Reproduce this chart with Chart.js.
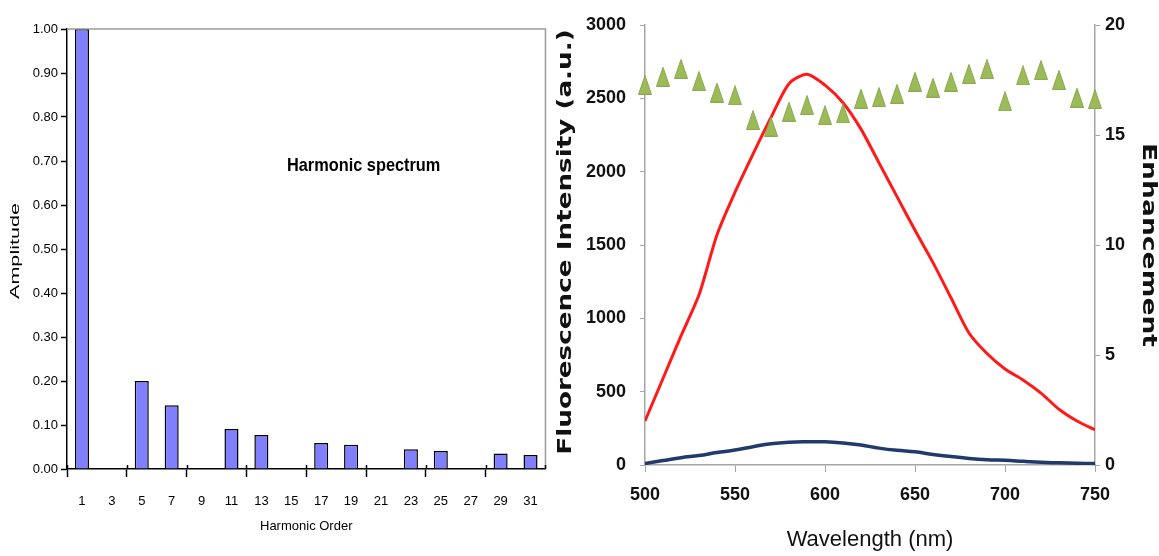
<!DOCTYPE html>
<html>
<head>
<meta charset="utf-8">
<script src="https://cdn.jsdelivr.net/npm/chart.js@4"></script>
<style>
  html, body { margin: 0; padding: 0; background: #ffffff; }
  body { width: 1159px; height: 556px; position: relative; overflow: hidden; }
  #wrapL { position: absolute; left: 0; top: 0; width: 555px; height: 556px; }
  #wrapR { position: absolute; left: 555px; top: 0; width: 604px; height: 556px; }
</style>
</head>
<body>
<div id="wrapL"><canvas id="left" width="555" height="556"></canvas></div>
<div id="wrapR"><canvas id="right" width="604" height="556"></canvas></div>
<script>
// ---------- Left chart data ----------
const harmonicOrders = ['1','3','5','7','9','11','13','15','17','19','21','23','25','27','29','31'];
const amplitudes = [1.00, 0, 0.20, 0.145, 0, 0.091, 0.077, 0, 0.059, 0.055, 0, 0.045, 0.041, 0, 0.035, 0.032];
const leftTitle = 'Harmonic spectrum';
const leftXTitle = 'Harmonic Order';
const leftYTitle = 'Amplitude';

// ---------- Right chart data ----------
const wavelengths = [500,510,520,530,540,550,560,570,580,590,600,610,620,630,640,650,660,670,680,690,700,710,720,730,740,750];
const fluorescenceEnhanced = [300,590,880,1160,1570,1860,2120,2370,2600,2665,2590,2470,2290,2060,1830,1600,1380,1140,900,760,655,580,490,380,300,240];
const fluorescenceControl = [10,30,50,65,85,102,125,145,155,158,158,150,136,115,100,90,72,58,45,36,32,25,18,15,12,10];
const enhancement = [17.27,17.65,18.0,17.45,16.93,16.8,15.68,15.38,16.06,16.36,15.9,15.98,16.65,16.72,16.87,17.42,17.15,17.42,17.78,18.0,16.53,17.71,17.95,17.5,16.7,16.63];
const rightXTitle = 'Wavelength (nm)';
const rightYTitle = 'Fluorescence Intensity (a.u.)';
const rightY2Title = 'Enhancement';

const narrow = "'Liberation Sans Narrow', 'Liberation Sans', Arial, sans-serif";
const sans = "'Liberation Sans', Arial, sans-serif";
const wide = "'DejaVu Sans', Verdana, sans-serif";

// text drawn with a stretch along its reading direction
function drawRotated(ctx, text, x, y, angle, font, stretch, color) {
  ctx.save();
  ctx.translate(x, y);
  ctx.rotate(angle);
  ctx.scale(stretch, 1);
  ctx.font = font;
  ctx.fillStyle = color;
  ctx.textAlign = 'center';
  ctx.textBaseline = 'middle';
  ctx.fillText(text, 0, 0);
  ctx.restore();
}

// ---------- Left chart ----------
const leftDecor = {
  id: 'leftDecor',
  afterDraw(chart) {
    const {ctx, chartArea: a} = chart;
    ctx.save();
    ctx.strokeStyle = '#9a9a9a';
    ctx.lineWidth = 1.5;
    ctx.beginPath();
    ctx.moveTo(a.left, a.top);
    ctx.lineTo(a.right, a.top);
    ctx.lineTo(a.right, a.bottom);
    ctx.stroke();
    // tick marks crossing the category axis (every second category boundary)
    ctx.strokeStyle = '#000';
    ctx.lineWidth = 1.5;
    const n = harmonicOrders.length;
    for (let i = 0; i <= n; i += 2) {
      const x = Math.round(a.left + i * (a.right - a.left) / n) + 0.5;
      ctx.beginPath();
      ctx.moveTo(x, a.bottom - 4);
      ctx.lineTo(x, a.bottom);
      ctx.stroke();
    }
    ctx.restore();
    drawRotated(ctx, leftTitle, a.left + (a.right - a.left) * 0.62, a.top + (a.bottom - a.top) * 0.31, 0, "bold 19px " + sans, 0.86, '#000');
    drawRotated(ctx, leftYTitle, 16, (a.top + a.bottom) / 2 + 2, -Math.PI / 2, "12px " + sans, 1.8, '#000');
  }
};

new Chart(document.getElementById('left'), {
  type: 'bar',
  data: {
    labels: harmonicOrders,
    datasets: [{
      data: amplitudes,
      backgroundColor: '#8080FF',
      borderColor: '#000000',
      borderWidth: 1.5,
      categoryPercentage: 1,
      barPercentage: 0.47
    }]
  },
  options: {
    responsive: false,
    animation: false,
    devicePixelRatio: 1,
    layout: { padding: { left: 0, top: 29, right: 8, bottom: 0 } },
    plugins: { legend: { display: false }, tooltip: { enabled: false } },
    scales: {
      x: {
        offset: true,
        afterFit(s) { s.height = 87; },
        grid: {
          offset: true,
          drawOnChartArea: false,
          drawTicks: true,
          tickLength: 8,
          tickWidth: 1.5,
          tickColor: (c) => (c.index % 2 === 0 ? '#000' : 'rgba(0,0,0,0)'),
          color: (c) => (c.index % 2 === 0 ? '#000' : 'rgba(0,0,0,0)')
        },
        border: { color: '#000', width: 1.5 },
        ticks: { color: '#000', font: { family: narrow, size: 13 }, padding: 17, maxRotation: 0, autoSkip: false },
        title: { display: true, text: leftXTitle, color: '#000', font: { family: narrow, size: 13 }, padding: { top: 0, bottom: 22 } }
      },
      y: {
        min: 0, max: 1,
        afterFit(s) { s.width = 67; },
        grid: { drawOnChartArea: false, drawTicks: true, tickLength: 6, tickWidth: 1.5, tickColor: '#000' },
        border: { color: '#000', width: 1.5 },
        ticks: { stepSize: 0.1, color: '#000', padding: 3, font: { family: narrow, size: 13 }, callback: (v) => Number(v).toFixed(2) }
      }
    }
  },
  plugins: [leftDecor]
});

// ---------- Right chart ----------
function triangleImage() {
  const c = document.createElement('canvas');
  c.width = 14; c.height = 20;
  const g = c.getContext('2d');
  g.fillStyle = '#9BBB59';
  g.strokeStyle = '#8aa84c';
  g.lineWidth = 1;
  g.beginPath();
  g.moveTo(7, 0.5);
  g.lineTo(13.5, 19.5);
  g.lineTo(0.5, 19.5);
  g.closePath();
  g.fill();
  g.stroke();
  return c;
}
const tri = triangleImage();

const toXY = (ys) => wavelengths.map((x, i) => ({ x: x, y: ys[i] }));

const rightTitles = {
  id: 'rightTitles',
  afterDraw(chart) {
    const {ctx, chartArea: a} = chart;
    const cy = (a.top + a.bottom) / 2;
    drawRotated(ctx, rightYTitle, 11, cy - 3, -Math.PI / 2, "bold 19px " + wide, 1.38, '#111');
    drawRotated(ctx, rightY2Title, 593, cy, Math.PI / 2, "bold 19px " + wide, 1.4, '#111');
  }
};

new Chart(document.getElementById('right'), {
  type: 'line',
  data: {
    datasets: [
      {
        label: 'Enhancement',
        data: toXY(enhancement),
        yAxisID: 'yR',
        showLine: false,
        pointStyle: tri,
        pointRadius: 8,
        clip: false,
        order: 0
      },
      {
        label: 'Enhanced',
        data: toXY(fluorescenceEnhanced),
        yAxisID: 'y',
        borderColor: '#FF1A1A',
        borderWidth: 3,
        pointRadius: 0,
        tension: 0.25,
        order: 1
      },
      {
        label: 'Control',
        data: toXY(fluorescenceControl),
        yAxisID: 'y',
        borderColor: '#1F3A6B',
        borderWidth: 3.5,
        pointRadius: 0,
        tension: 0.4,
        order: 2
      }
    ]
  },
  options: {
    responsive: false,
    animation: false,
    devicePixelRatio: 1,
    layout: { padding: { left: 0, top: 25, right: 0, bottom: 0 } },
    plugins: { legend: { display: false }, tooltip: { enabled: false } },
    scales: {
      x: {
        type: 'linear',
        min: 500, max: 750,
        afterFit(s) { s.height = 91; },
        grid: { drawOnChartArea: false, drawTicks: true, tickLength: 7, tickColor: '#a6a6a6', tickWidth: 1 },
        border: { color: '#a6a6a6', width: 1.5 },
        ticks: { stepSize: 50, color: '#111', padding: 12, font: { family: sans, size: 18, weight: 'bold' }, maxRotation: 0, callback: (v) => String(v) },
        title: { display: true, text: rightXTitle, color: '#111', font: { family: sans, size: 22 }, padding: { top: 0, bottom: 3 } }
      },
      y: {
        position: 'left',
        min: 0, max: 3000,
        afterFit(s) { s.width = 90; },
        grid: { drawOnChartArea: false, drawTicks: true, tickLength: 5, tickColor: '#a6a6a6', tickWidth: 1 },
        border: { color: '#a6a6a6', width: 1.5 },
        ticks: { stepSize: 500, color: '#111', padding: 14, font: { family: sans, size: 18, weight: 'bold' }, callback: (v) => String(v) }
      },
      yR: {
        position: 'right',
        min: 0, max: 20,
        afterFit(s) { s.width = 64; },
        grid: { drawOnChartArea: false, drawTicks: true, tickLength: 5, tickColor: '#a6a6a6', tickWidth: 1 },
        border: { color: '#a6a6a6', width: 1.5 },
        ticks: { stepSize: 5, color: '#111', padding: 5, font: { family: sans, size: 18, weight: 'bold' }, callback: (v) => String(v) }
      }
    }
  },
  plugins: [rightTitles]
});
</script>
</body>
</html>
